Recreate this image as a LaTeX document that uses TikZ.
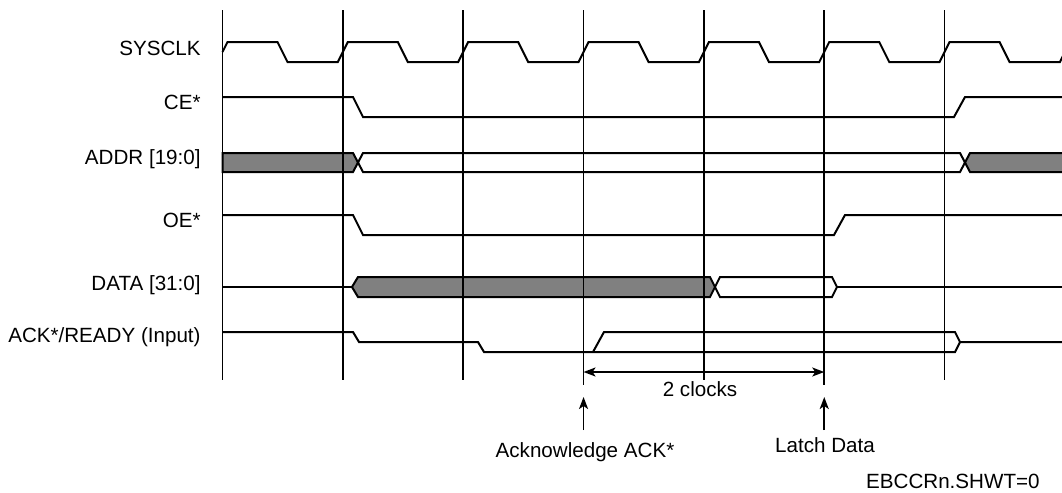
\documentclass[tikz,border=0pt]{standalone}
\usepackage{fontspec}
\setmainfont{Liberation Sans}
\usetikzlibrary{arrows.meta}
\colorlet{busFill}{black!50}
\tikzset{
  sig/.style={line width=1pt, line join=miter},
  gridline/.style={line width=0.8pt},
  lbl/.style={font=\fontsize{10.3}{12}\selectfont, inner sep=0pt},
  tipline/.style={line width=0.9pt, -{Stealth[length=6pt, width=4.5pt, inset=1.5pt]}},
  dimline/.style={line width=0.9pt, {Stealth[length=6pt, width=4.5pt, inset=1.5pt]}-{Stealth[length=6pt, width=4.5pt, inset=1.5pt]}},
}
\begin{document}
\begin{tikzpicture}[x=0.5pt, y=-0.5pt]
  \useasboundingbox (0,0) rectangle (1062,493);
  % signal names
  \node[lbl, anchor=base east] (sysclk) at (201,55) {SYSCLK};
  \node[lbl, anchor=base east] (ce) at (201,109) {CE*};
  \node[lbl, anchor=base east] (addr) at (201,164) {ADDR [19:0]};
  \node[lbl, anchor=base east] (oe) at (201,227) {OE*};
  \node[lbl, anchor=base east] (data) at (201,290) {DATA [31:0]};
  \node[lbl, anchor=base east] (ack) at (201,342) {ACK*/READY (Input)};
  \begin{scope}
    \clip (0,0) rectangle (1062,493);
    % clock
    \draw[sig] (222.5,52) -- (227.5,42)
      \foreach \k in {0,...,6} {
        -- ({222.5+120.35*\k+55},42) -- ({222.5+120.35*\k+65},62)
        -- ({222.5+120.35*\k+115.35},62) -- ({222.5+120.35*\k+125.35},42)
      };
    % CE*
    \draw[sig] (222.5,97) -- (353,97) -- (363,117) -- (954,117) -- (965,97) -- (1062,97);
    % ADDR
    \filldraw[sig, fill=busFill] (222.5,153) -- (353,153) -- (358,162.5) -- (353,172) -- (222.5,172) -- cycle;
    \draw[sig] (358,162.5) -- (363,153) -- (960,153) -- (965,162.5) -- (960,172) -- (363,172) -- cycle;
    \filldraw[sig, fill=busFill] (965,162.5) -- (970,153) -- (1070,153) -- (1070,172) -- (970,172) -- cycle;
    % OE*
    \draw[sig] (222.5,215) -- (353,215) -- (363,235) -- (834,235) -- (845,215) -- (1062,215);
    % DATA
    \draw[sig] (222.5,287) -- (352,287);
    \filldraw[sig, fill=busFill] (352,287) -- (358,277) -- (710,277) -- (715,287) -- (710,297) -- (358,297) -- cycle;
    \draw[sig] (715,287) -- (720,277) -- (832,277) -- (837,287) -- (832,297) -- (720,297) -- cycle;
    \draw[sig] (837,287) -- (1062,287);
    % ACK*/READY
    \draw[sig] (222.5,332) -- (353,332) -- (359,342) -- (478,342) -- (484,352) -- (955,352) -- (960,342) -- (1062,342);
    \draw[sig] (593,352) -- (604,332) -- (955,332) -- (960,342);
  \end{scope}
  % clock edges
  \foreach \x/\yb in {222.5/380, 342.85/380, 463.2/380, 583.55/385, 703.9/380, 824.25/385, 944.6/380}
    \draw[gridline] (\x,10) -- (\x,\yb);
  % 2 clocks
  \coordinate (ackpt) at (583.55,372);
  \coordinate (latchpt) at (824.25,372);
  \draw[dimline] (ackpt) -- (latchpt);
  \node[lbl, anchor=base] (clocks) at (700,396) {2 clocks};
  % markers
  \coordinate (ackTail) at (583.55,430);
  \coordinate (ackTip) at (583.55,397);
  \coordinate (latchTail) at (824.25,430);
  \coordinate (latchTip) at (824.25,397);
  \draw[tipline] (ackTail) -- (ackTip);
  \draw[tipline] (latchTail) -- (latchTip);
  \node[lbl, anchor=base] (ackLbl) at (585,457) {Acknowledge ACK*};
  \node[lbl, anchor=base] (latchLbl) at (825,452) {Latch Data};
  \node[lbl, anchor=base east] (mode) at (1040,488) {EBCCRn.SHWT=0};
\end{tikzpicture}
\end{document}
